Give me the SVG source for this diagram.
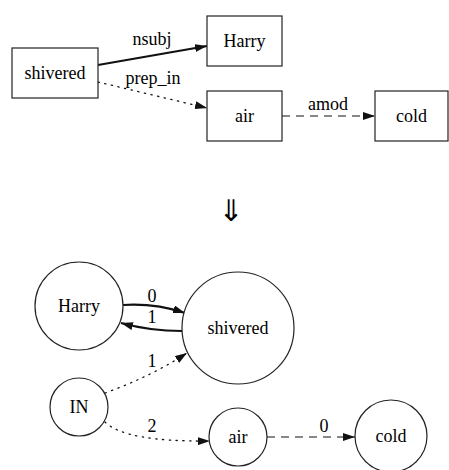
<svg xmlns="http://www.w3.org/2000/svg" width="449" height="470" viewBox="0 0 449 470">
<style>
.node{fill:#fff;stroke:#222;stroke-width:1.2}
.e{fill:none;stroke:#111}
.solid{stroke-width:2.2}
.dot{stroke-width:1.3;stroke-dasharray:1.3,5.5;stroke-linecap:round}
.dash{stroke-width:1.2;stroke-dasharray:8,6}
</style>
<defs>
<marker id="ah" markerUnits="userSpaceOnUse" markerWidth="12" markerHeight="8" refX="12" refY="4" orient="auto">
<path d="M0,0 L12,4 L0,8 z" fill="#111"/>
</marker>
</defs>
<g id="edges">
<path class="e solid" d="M98,65 L207,46" marker-end="url(#ah)"/>
<path class="e dot" d="M98,82 L207,108" marker-end="url(#ah)"/>
<path class="e dash" d="M282,116 L375,116" marker-end="url(#ah)"/>
<path class="e solid" d="M123,305 Q155,303 185,313" marker-end="url(#ah)"/>
<path class="e solid" d="M182,331 Q150,331 121,323" marker-end="url(#ah)"/>
<path class="e dot" d="M105,393 Q150,377 187,353" marker-end="url(#ah)"/>
<path class="e dot" d="M105,422 Q125,442 210,441" marker-end="url(#ah)"/>
<path class="e dash" d="M267,437 L355,437" marker-end="url(#ah)"/>
<text x="152" y="45" font-family="Liberation Serif" font-size="18" text-anchor="middle">nsubj</text>
<text x="153" y="84" font-family="Liberation Serif" font-size="18" text-anchor="middle">prep_in</text>
<text x="328" y="110" font-family="Liberation Serif" font-size="18" text-anchor="middle">amod</text>
<text x="152" y="302" font-family="Liberation Serif" font-size="18" text-anchor="middle">0</text>
<text x="152" y="323" font-family="Liberation Serif" font-size="18" text-anchor="middle">1</text>
<text x="152" y="367" font-family="Liberation Serif" font-size="18" text-anchor="middle">1</text>
<text x="152" y="432" font-family="Liberation Serif" font-size="18" text-anchor="middle">2</text>
<text x="324" y="432" font-family="Liberation Serif" font-size="18" text-anchor="middle">0</text>
</g>
<g id="n_shivered_top"><rect class="node" x="12" y="48" width="86" height="50"/><text x="55" y="79" font-family="Liberation Serif" font-size="18" text-anchor="middle">shivered</text></g>
<g id="n_harry_top"><rect class="node" x="207" y="16" width="75" height="50"/><text x="244.5" y="47" font-family="Liberation Serif" font-size="18" text-anchor="middle">Harry</text></g>
<g id="n_air_top"><rect class="node" x="207" y="91" width="75" height="50"/><text x="244.5" y="122" font-family="Liberation Serif" font-size="18" text-anchor="middle">air</text></g>
<g id="n_cold_top"><rect class="node" x="375" y="91" width="73" height="50"/><text x="411.5" y="122" font-family="Liberation Serif" font-size="18" text-anchor="middle">cold</text></g>
<g id="n_harry"><circle class="node" cx="79" cy="306" r="44"/><text x="79" y="312" font-family="Liberation Serif" font-size="18" text-anchor="middle">Harry</text></g>
<g id="n_shivered"><circle class="node" cx="238" cy="328" r="56"/><text x="238" y="334" font-family="Liberation Serif" font-size="18" text-anchor="middle">shivered</text></g>
<g id="n_in"><circle class="node" cx="79" cy="407" r="29"/><text x="79" y="413" font-family="Liberation Serif" font-size="18" text-anchor="middle">IN</text></g>
<g id="n_air"><circle class="node" cx="238" cy="437" r="29"/><text x="238" y="443" font-family="Liberation Serif" font-size="18" text-anchor="middle">air</text></g>
<g id="n_cold"><circle class="node" cx="391" cy="436" r="36"/><text x="391" y="442" font-family="Liberation Serif" font-size="18" text-anchor="middle">cold</text></g>
<g id="transform"><text x="231" y="221" font-family="DejaVu Sans" font-size="30" text-anchor="middle">⇓</text></g>
</svg>
